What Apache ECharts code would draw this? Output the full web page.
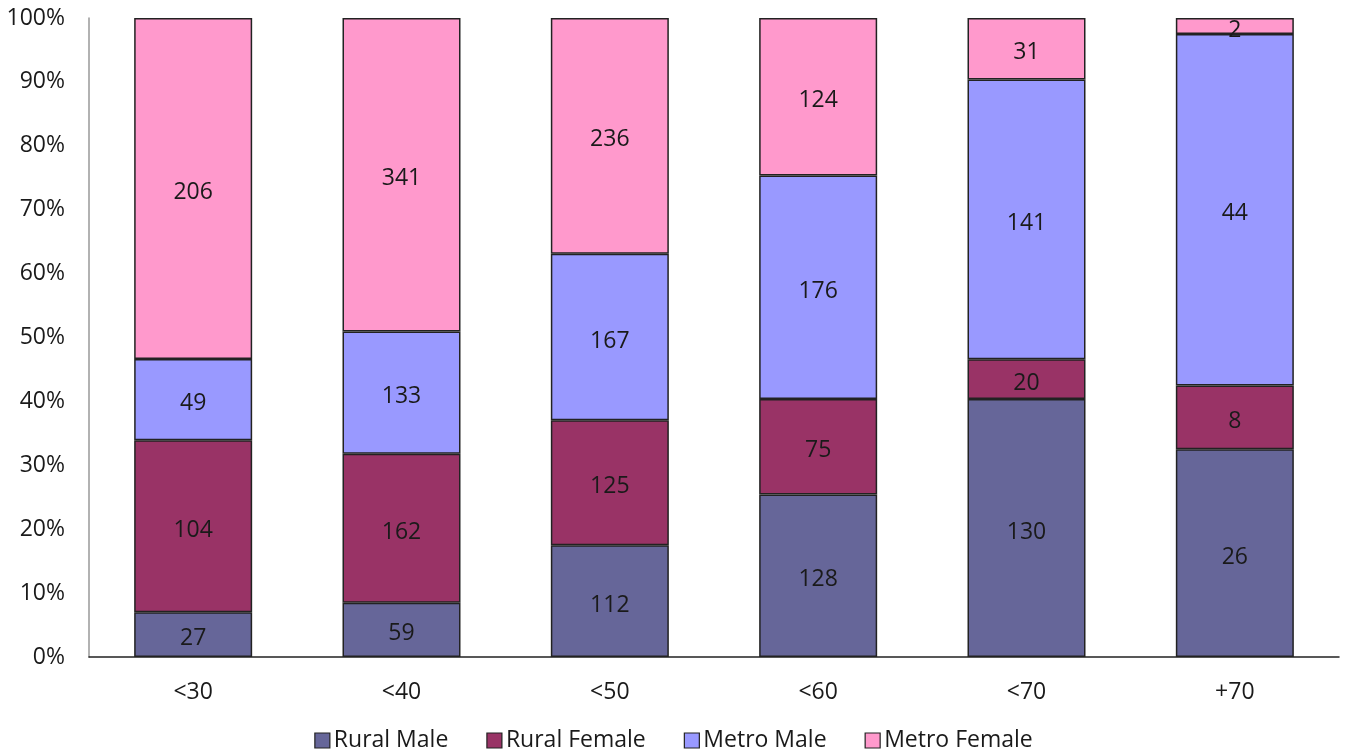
<!DOCTYPE html>
<html><head><meta charset="utf-8">
<script src="https://cdn.jsdelivr.net/npm/echarts@6/dist/echarts.min.js"></script>
<style>html,body{margin:0;padding:0;background:#fff}#c{width:1347px;height:756px}</style>
</head><body><div id="c"></div>
<script>
const categories = ['<30', '<40', '<50', '<60', '<70', '+70'];
const ruralMale = [27, 59, 112, 128, 130, 26];
const ruralFemale = [104, 162, 125, 75, 20, 8];
const metroMale = [49, 133, 167, 176, 141, 44];
const metroFemale = [206, 341, 236, 124, 31, 2];
const yTicks = [0, 10, 20, 30, 40, 50, 60, 70, 80, 90, 100];

const seriesDefs = [
  { name: 'Rural Male', data: ruralMale, color: '#666699' },
  { name: 'Rural Female', data: ruralFemale, color: '#993366' },
  { name: 'Metro Male', data: metroMale, color: '#9999FF' },
  { name: 'Metro Female', data: metroFemale, color: '#FF99CC' }
];
const totals = categories.map((_, i) => seriesDefs.reduce((s, d) => s + d.data[i], 0));
const FONT = 'Open Sans';
const FS = 23;

const chart = echarts.init(document.getElementById('c'));
chart.setOption({
  animation: false,
  textStyle: { fontFamily: FONT },
  grid: { left: 89, right: 8, top: 18, bottom: 99, containLabel: false },
  legend: {
    bottom: -1, left: 'center',
    itemWidth: 15, itemHeight: 15, itemGap: 38,
    icon: 'rect',
    textStyle: { fontSize: FS, color: '#1a1a1a', fontFamily: FONT, padding: [0, 0, 0, -1] },
    data: seriesDefs.map(d => ({ name: d.name, itemStyle: { borderColor: '#222', borderWidth: 1.2 } }))
  },
  xAxis: {
    type: 'category', data: categories,
    axisLine: { lineStyle: { color: '#222', width: 1.5 } },
    axisTick: { show: false },
    axisLabel: { fontSize: FS, color: '#1a1a1a', margin: 24, fontFamily: FONT }
  },
  yAxis: {
    type: 'value', min: 0, max: 100, interval: 10,
    axisLine: { show: true, lineStyle: { color: '#999', width: 1.5 } },
    axisTick: { show: false },
    splitLine: { show: false },
    axisLabel: { fontSize: FS, color: '#1a1a1a', margin: 24, fontFamily: FONT, formatter: v => v + '%' }
  },
  series: seriesDefs.map(d => ({
    name: d.name, type: 'bar', stack: 'total', barWidth: 118,
    itemStyle: { color: d.color, borderColor: '#222', borderWidth: 1.5 },
    label: {
      show: true, position: 'inside', fontSize: FS, color: '#1a1a1a', fontFamily: FONT,
      offset: [0, 4],
      formatter: p => String(d.data[p.dataIndex])
    },
    data: d.data.map((v, i) => v / totals[i] * 100)
  }))
});
</script>
</body></html>
